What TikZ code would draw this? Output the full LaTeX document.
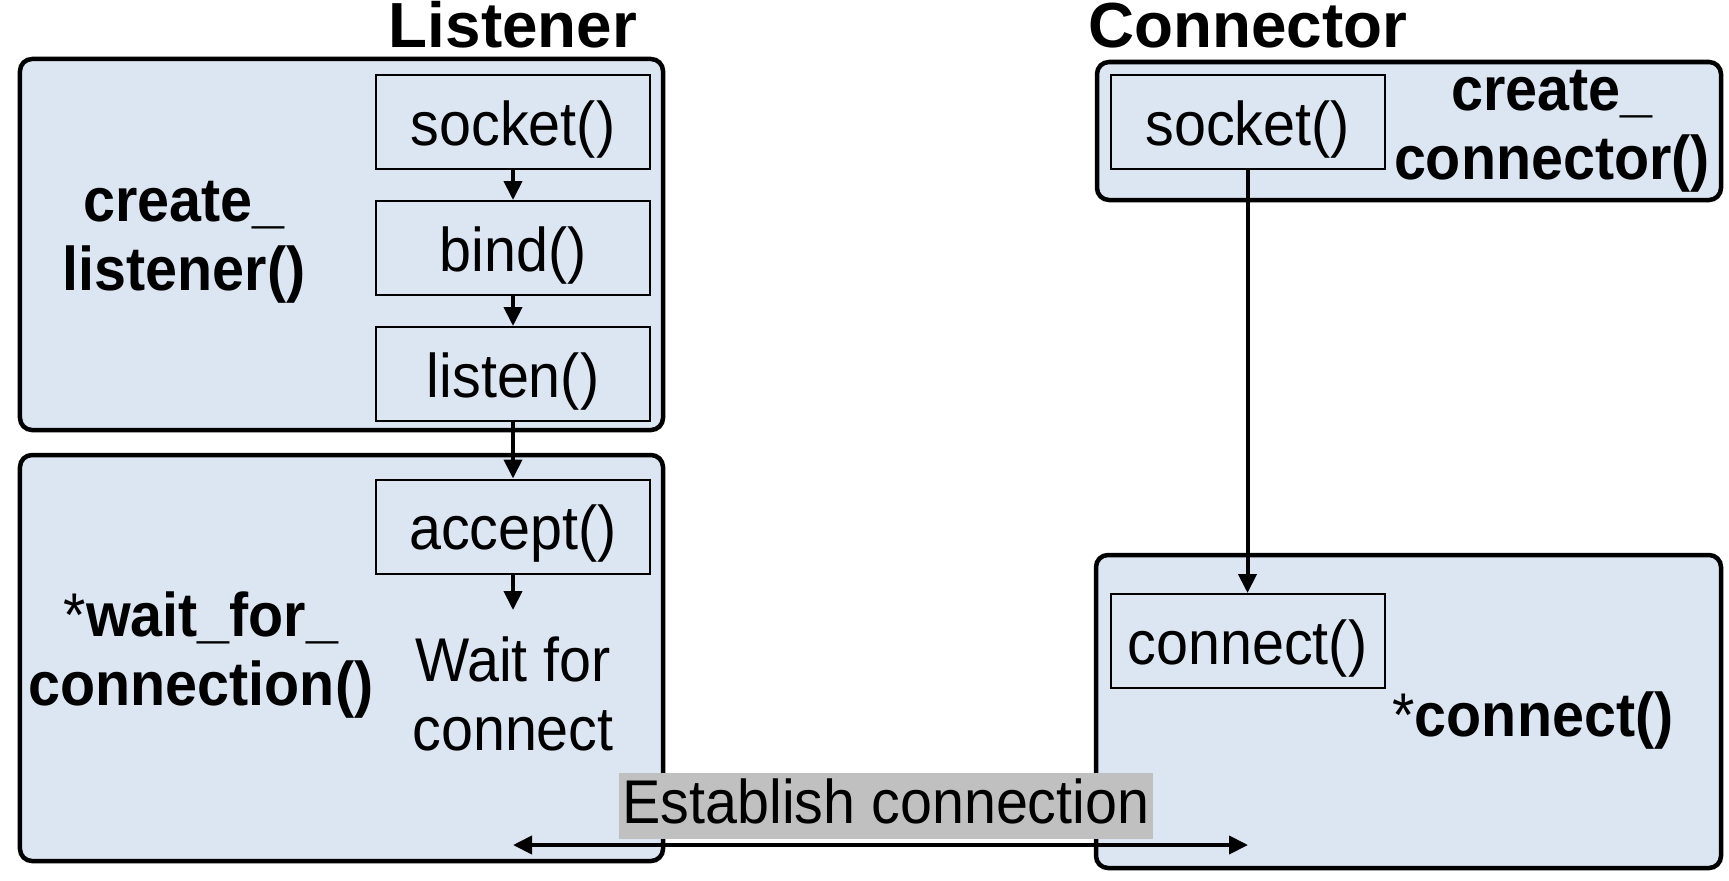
\documentclass[tikz,border=0pt]{standalone}
\usepackage{fontspec}
\setmainfont{Liberation Sans}[FakeStretch=0.93]
\newfontfamily\titlefont{Liberation Sans}
\usetikzlibrary{arrows.meta}
\definecolor{boxblue}{HTML}{DCE6F2}
\definecolor{labelgray}{HTML}{C0C0C0}
\begin{document}
\begin{tikzpicture}[x=1bp,y=-1bp,
  group/.style={draw=black, line width=4.5bp, fill=boxblue, rounded corners=12bp, inner sep=0pt},
  fn/.style={draw=black, line width=2bp, fill=boxblue, minimum width=274bp, minimum height=94bp, inner sep=0pt, text height=46bp, text depth=0pt, font=\fontsize{62}{69}\selectfont},
  lbl/.style={align=center, font=\fontsize{62}{69}\selectfont\bfseries, inner sep=0pt, anchor=base},
  txt/.style={align=center, font=\fontsize{62}{69}\selectfont, inner sep=0pt, anchor=base},
  ttl/.style={font=\titlefont\bfseries\fontsize{64}{70}\selectfont, inner sep=0pt, anchor=base},
  arr/.style={line width=4bp, -{Triangle[length=19bp,width=18bp]}},
  dbl/.style={line width=4bp, {Triangle[length=19bp,width=18bp]}-{Triangle[length=19bp,width=18bp]}}
]
\useasboundingbox (0,0) rectangle (1729,880);

% group boxes
\node[group, minimum width=643bp, minimum height=371bp] (g1) at (341.5,244.5) {};
\node[group, minimum width=643bp, minimum height=406bp] (g2) at (341.5,658) {};
\node[group, minimum width=624bp, minimum height=138bp] (g3) at (1409,131) {};
\node[group, minimum width=625bp, minimum height=313bp] (g4) at (1408.5,711.5) {};

% titles
\node[ttl] (tL) at (513,47) {Listener};
\node[ttl] (tC) at (1248,47) {Connector};

% function boxes
\node[fn] (sockL) at (513,122) {socket()};
\node[fn] (bind) at (513,248) {bind()};
\node[fn] (listen) at (513,374) {listen()};
\node[fn] (accept) at (513,526.5) {accept()};
\node[fn] (sockR) at (1247.5,122) {socket()};
\node[fn] (conn) at (1247.5,641) {connect()};

% labels (anchor=base is the baseline of the last line)
\node[lbl] (cl) at (184,290) {create\_\\listener()};
\node[lbl] (wfc) at (201,705) {{\mdseries*}wait\_for\_\\connection()};
\node[txt] (wait) at (513,750.5) {Wait for\\connect};
\node[lbl] (cc) at (1552,179) {create\_\\connector()};
\node[lbl] (cn) at (1533,736.6) {{\mdseries*}connect()};

% arrows
\coordinate (wend) at (513,610);
\draw[arr] (sockL) -- (bind);
\draw[arr] (bind) -- (listen);
\draw[arr] (listen) -- (accept);
\draw[arr] (accept) -- (wend);
\draw[arr] (sockR) -- (conn);

% establish connection
\node[fill=labelgray, minimum width=534bp, minimum height=66bp, inner sep=0pt, text height=34bp, text depth=0pt, font=\fontsize{62}{69}\selectfont] (est) at (886,806) {Establish connection};
\coordinate (eL) at (513,845);
\coordinate (eR) at (1248,845);
\draw[dbl] (eL) -- (eR);
\end{tikzpicture}
\end{document}
